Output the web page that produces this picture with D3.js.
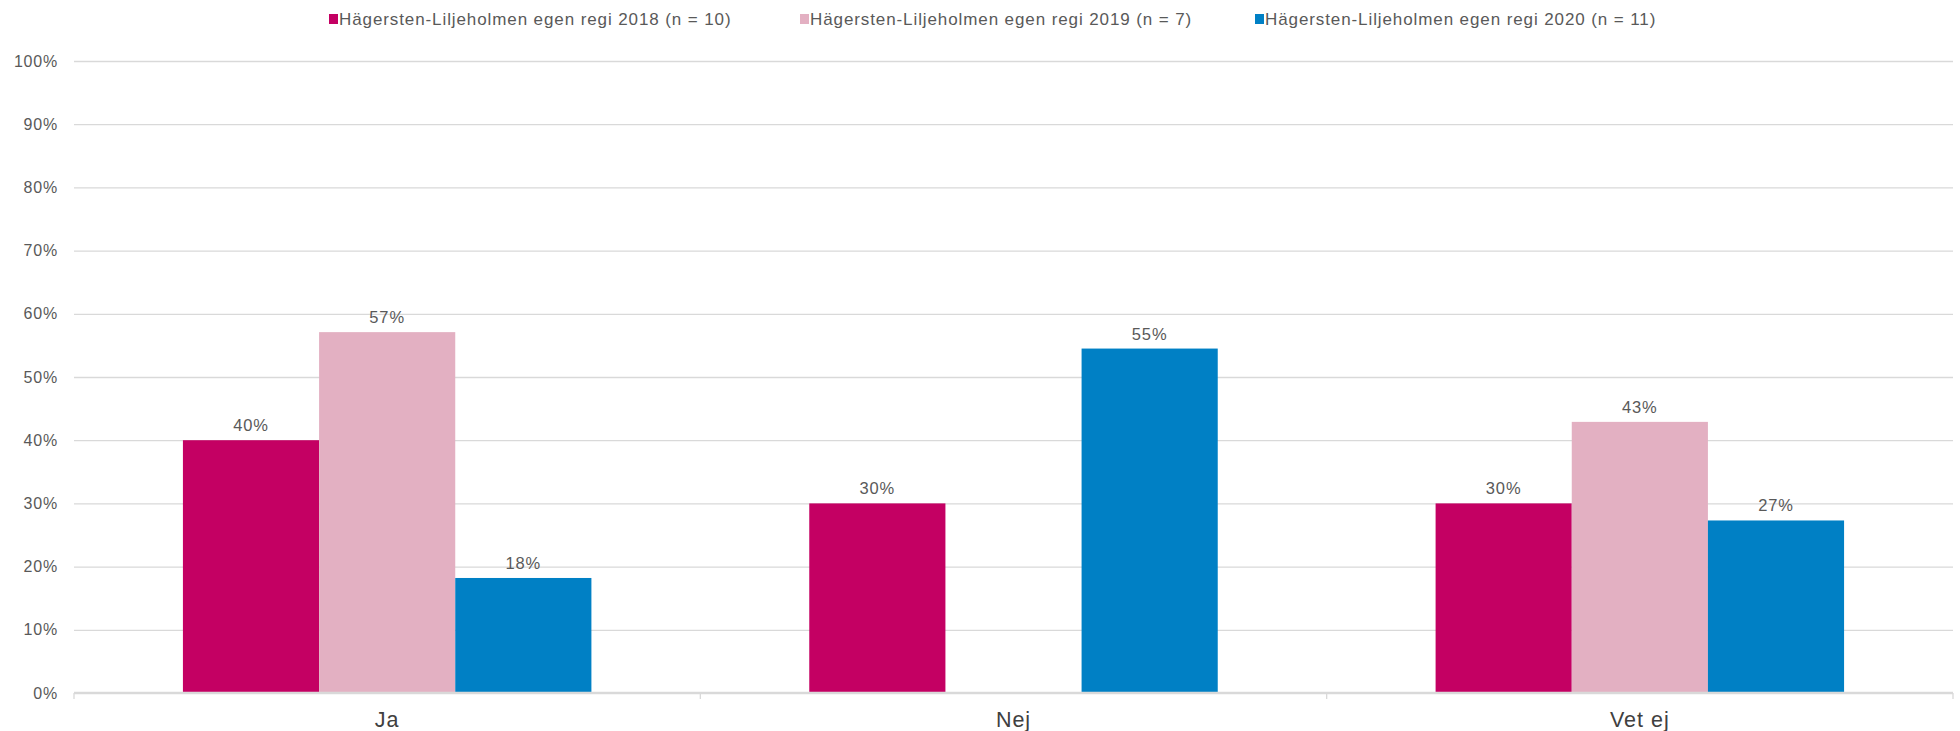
<!DOCTYPE html>
<html><head><meta charset="utf-8">
<script src="https://cdn.jsdelivr.net/npm/d3@7"></script>
<style>body{margin:0;background:#fff}svg{display:block;font-family:"Liberation Sans",Arial,sans-serif}</style>
</head><body><svg id="c" width="1960" height="731"></svg>
<script>
const categories = ["Ja","Nej","Vet ej"];
const seriesNames = ["Hägersten-Liljeholmen egen regi 2018 (n = 10)","Hägersten-Liljeholmen egen regi 2019 (n = 7)","Hägersten-Liljeholmen egen regi 2020 (n = 11)"];
const values2018 = [40, 30, 30];
const values2019 = [57.1, 0, 42.9];
const values2020 = [18.2, 54.5, 27.3];
const colors = ["#C40063","#E3B0C2","#0080C5"];
const yTicks = [0,10,20,30,40,50,60,70,80,90,100];

const series = [values2018, values2019, values2020];
const svg = d3.select("#c");
const pL=74, pR=1953, pT=61, pB=693;
const x = d3.scaleBand().domain(categories).range([pL,pR]).paddingInner(0).paddingOuter(0);
const xi = d3.scaleBand().domain([0,1,2]).range([0,x.bandwidth()]).paddingInner(0).paddingOuter(0.8);
const y = d3.scaleLinear().domain([0,100]).range([pB,pT]);

// gridlines
svg.append("g").selectAll("line").data(yTicks.filter(d=>d>0)).join("line")
  .attr("x1",pL).attr("x2",pR).attr("y1",d=>y(d)+0.5).attr("y2",d=>y(d)+0.5)
  .attr("stroke","#d9d9d9").attr("stroke-width",1.3);

// y axis labels
const yAxis = d3.axisLeft(y).tickValues(yTicks).tickFormat(d=>d+"%").tickSize(0).tickPadding(16);
const ya = svg.append("g").attr("transform",`translate(${pL},0)`).call(yAxis);
ya.select(".domain").remove();
ya.selectAll("text").attr("font-size",16).attr("fill","#595959").attr("font-family","Liberation Sans, Arial").style("letter-spacing","0.8px");

// bars
categories.forEach((c,ci)=>{
  series.forEach((s,si)=>{
    const v=s[ci];
    const g=svg.append("g");
    g.append("rect").attr("x",x(c)+xi(si)).attr("width",xi.bandwidth())
      .attr("y",y(v)).attr("height",y(0)-y(v)).attr("fill",colors[si]);
    if(v>0){
      g.append("text").attr("x",x(c)+xi(si)+xi.bandwidth()/2).attr("y",y(v)-9)
        .attr("text-anchor","middle").attr("font-size",16.5).attr("fill","#595959")
        .style("letter-spacing","0.9px").text(Math.round(v)+"%");
    }
  });
});

// x axis
const xAxis = d3.axisBottom(x).tickSize(0).tickPadding(15);
const xa = svg.append("g").attr("transform",`translate(0,${pB})`).call(xAxis);
xa.select(".domain").attr("stroke","#d9d9d9").attr("stroke-width",2.5).attr("d",`M${pL},0H${pR}`);
xa.selectAll("text").attr("font-size",21.5).attr("fill","#404040").attr("font-family","Liberation Sans, Arial").attr("dy","0.9em").style("letter-spacing","1px");
const bounds=[pL, ...categories.map(c=>x(c)+x.bandwidth())];
svg.append("g").selectAll("line").data(bounds).join("line")
  .attr("x1",d=>d).attr("x2",d=>d).attr("y1",pB).attr("y2",pB+6)
  .attr("stroke","#d9d9d9").attr("stroke-width",1.3);

// legend
const legX=[329,800,1255];
const leg=svg.append("g");
seriesNames.forEach((n,i)=>{
  leg.append("rect").attr("x",legX[i]).attr("y",14).attr("width",9).attr("height",10).attr("fill",colors[i]);
  leg.append("text").attr("x",legX[i]+10).attr("y",24.5).attr("font-size",17).attr("fill","#595959")
    .style("letter-spacing","0.9px").text(n);
});
</script></body></html>
